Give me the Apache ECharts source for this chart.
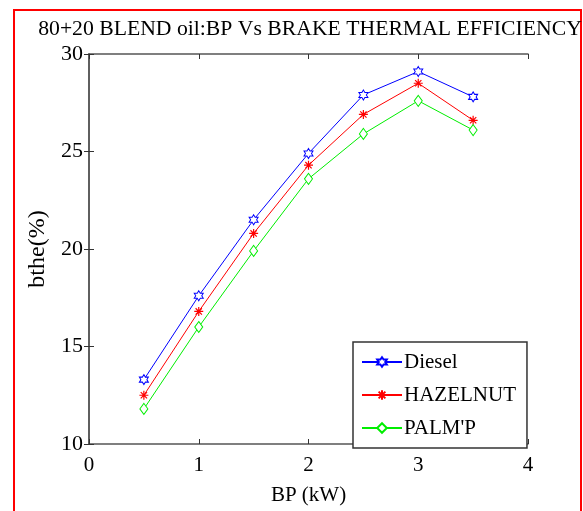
<!DOCTYPE html>
<html>
<head>
<meta charset="utf-8">
<script src="https://cdn.jsdelivr.net/npm/echarts@6/dist/echarts.min.js"></script>
<style>
html,body{margin:0;padding:0;background:#fff;}
#chart{width:583px;height:511px;}
</style>
</head>
<body>
<div id="chart"></div>
<script>
const bp = [0.5, 1, 1.5, 2, 2.5, 3, 3.5];
const diesel = [13.3, 17.6, 21.5, 24.9, 27.9, 29.1, 27.8];
const hazelnut = [12.5, 16.8, 20.8, 24.3, 26.9, 28.5, 26.6];
const palm = [11.8, 16.0, 19.9, 23.6, 25.9, 27.6, 26.1];
const seriesNames = ['Diesel', 'HAZELNUT', "PALM'P"];
const titleText = '80+20 BLEND oil:BP Vs BRAKE THERMAL EFFICIENCY';
const xName = 'BP (kW)';
const yName = 'bthe(%)';

const serif = '"Liberation Serif", "DejaVu Serif", serif';
const hexagram = 'path://M50 0L64.43 25L93.3 25L78.87 50L93.3 75L64.43 75L50 100L35.57 75L6.7 75L21.13 50L6.7 25L35.57 25Z';
const asterisk = 'path://M50 0L50 100M0 50L100 50M15 15L85 85M85 15L15 85';

function pairs(ys){ return bp.map((x,i)=>[x, ys[i]]); }

const chart = echarts.init(document.getElementById('chart'), null, {renderer:'canvas'});
const axisCommon = {
  axisLine:{show:true, lineStyle:{color:'#555', width:1.5}},
  axisTick:{show:true, inside:true, length:5, lineStyle:{color:'#333', width:1}},
  splitLine:{show:false}
};
chart.setOption({
  animation:false,
  backgroundColor:'#fff',
  title:{
    text:titleText, left:305, textAlign:'center', top:13,
    textStyle:{fontFamily:serif, fontSize:21.7, fontWeight:'normal', color:'#000'}
  },
  grid:{left:89, right:55, top:54, bottom:63},
  legend:{
    data:seriesNames, orient:'vertical', left:353, top:342,
    itemWidth:40, itemHeight:12, itemGap:11,
    padding:[9,11,9,8],
    borderColor:'#333', borderWidth:1.5, backgroundColor:'#fff',
    textStyle:{fontFamily:serif, fontSize:21, color:'#000', lineHeight:22, padding:[0,0,0,-3]}
  },
  xAxis:[
    Object.assign({type:'value', min:0, max:4, interval:1, position:'bottom',
      name:xName, nameLocation:'middle', nameGap:41,
      nameTextStyle:{fontFamily:serif, fontSize:21, color:'#000'},
      axisLabel:{fontFamily:serif, fontSize:21, color:'#000', margin:11}}, axisCommon),
    Object.assign({type:'value', min:0, max:4, interval:1, position:'top',
      axisLabel:{show:false}}, axisCommon)
  ],
  yAxis:[
    Object.assign({type:'value', min:10, max:30, interval:5, position:'left',
      name:yName, nameLocation:'middle', nameGap:27,
      nameTextStyle:{fontFamily:serif, fontSize:24, color:'#000'},
      axisLabel:{fontFamily:serif, fontSize:22, color:'#000', margin:6}}, axisCommon),
    Object.assign({type:'value', min:10, max:30, interval:5, position:'right',
      axisLabel:{show:false}}, axisCommon)
  ],
  graphic:[{
    type:'rect', shape:{x:14, y:10, width:567, height:520},
    style:{fill:'none', stroke:'#ff0000', lineWidth:2}, silent:true, z:-1
  }],
  series:[
    {name:seriesNames[0], type:'line', data:pairs(diesel), symbol:hexagram, symbolSize:[9,10],
      lineStyle:{color:'#0000ff', width:1}, itemStyle:{color:'#fff', borderColor:'#0000ff', borderWidth:1}},
    {name:seriesNames[1], type:'line', data:pairs(hazelnut), symbol:asterisk, symbolSize:9,
      lineStyle:{color:'#ff0000', width:1}, itemStyle:{color:'#ff0000', borderColor:'#ff0000', borderWidth:1.2}},
    {name:seriesNames[2], type:'line', data:pairs(palm), symbol:'diamond', symbolSize:[8,11],
      lineStyle:{color:'#00ee00', width:1}, itemStyle:{color:'#fff', borderColor:'#00ee00', borderWidth:1}}
  ]
});
</script>
</body>
</html>
